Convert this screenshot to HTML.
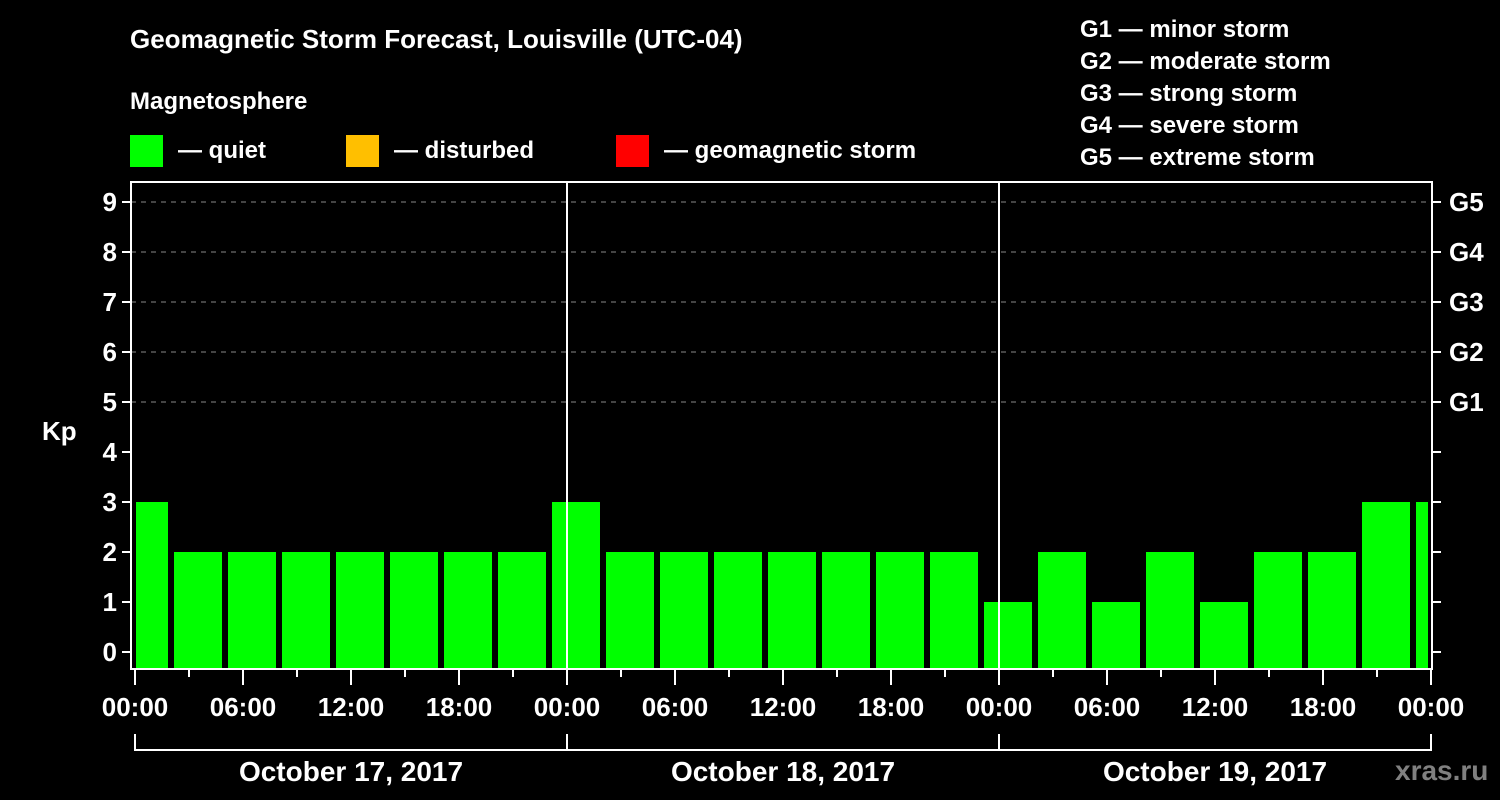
<!DOCTYPE html>
<html><head><meta charset="utf-8"><style>
html,body{margin:0;padding:0;background:#000;}
svg{display:block;font-family:"Liberation Sans",sans-serif;font-weight:bold;}
</style></head><body>
<svg id="chart" width="1500" height="800" viewBox="0 0 1500 800" xmlns="http://www.w3.org/2000/svg">
<rect width="1500" height="800" fill="#000"/>
<text x="130" y="48" fill="#fff" font-size="26">Geomagnetic Storm Forecast, Louisville (UTC-04)</text>
<text x="130" y="109" fill="#fff" font-size="24">Magnetosphere</text>
<g><rect x="130" y="135" width="33" height="32" fill="#00ff00"/><text x="178" y="158" fill="#fff" font-size="24">— quiet</text></g>
<g><rect x="346" y="135" width="33" height="32" fill="#ffbf00"/><text x="394" y="158" fill="#fff" font-size="24">— disturbed</text></g>
<g><rect x="616" y="135" width="33" height="32" fill="#ff0000"/><text x="664" y="158" fill="#fff" font-size="24">— geomagnetic storm</text></g>
<g fill="#fff" font-size="24">
<text x="1080" y="37">G1 — minor storm</text>
<text x="1080" y="69">G2 — moderate storm</text>
<text x="1080" y="101">G3 — strong storm</text>
<text x="1080" y="133">G4 — severe storm</text>
<text x="1080" y="165">G5 — extreme storm</text>
</g>
<text x="42" y="440" fill="#fff" font-size="26">Kp</text>
<g id="grid"></g>
<g id="bars"></g>
<g id="axes"></g>
<text x="1395" y="780" fill="#808080" font-size="28">xras.ru</text>
</svg>
<script>
const values = [3,2,2,2,2,2,2,2,3,2,2,2,2,2,2,2,1,2,1,2,1,2,2,3,3];
const blockStartHour = -1; // first 3h block starts at 23:00 previous day (local)
const dayLabels = ["October 17, 2017","October 18, 2017","October 19, 2017"];
const hourLabels = ["00:00","06:00","12:00","18:00"];
const gLabels = ["G1","G2","G3","G4","G5"];
const kpTicks = [0,1,2,3,4,5,6,7,8,9];

const NS = "http://www.w3.org/2000/svg";
const X0 = 135, PXH = 18, Y0 = 652, PXK = 50;
const L = 131, R = 1432, T = 182, B = 669;
const xs = h => X0 + h * PXH;
const ys = k => Y0 - k * PXK;
function mk(tag, attrs, parent) { const e = document.createElementNS(NS, tag); for (const k in attrs) e.setAttribute(k, attrs[k]); parent.appendChild(e); return e; }
const grid = document.getElementById('grid'), bars = document.getElementById('bars'), axes = document.getElementById('axes');

// grid lines 5..9
for (let k = 5; k <= 9; k++) {
  const ln = mk('line', {x1: L, x2: R, y1: ys(k), y2: ys(k), stroke: '#888', 'stroke-width': 1, 'stroke-dasharray': '5,5'}, grid);
  
  
}
// bars
values.forEach((v, i) => {
  const s = blockStartHour + 3 * i;
  let x1 = xs(s) + 3, x2 = xs(s + 3) - 3;
  x1 = Math.max(x1, L + 5); x2 = Math.min(x2, R - 4);
  const color = v >= 5 ? '#ff0000' : (v >= 4 ? '#ffbf00' : '#00ff00');
  const r = mk('rect', {x: x1, y: ys(v), width: x2 - x1, height: (B - 1) - ys(v), fill: color}, bars);
  
  
});
// day separators
for (let d = 1; d < dayLabels.length; d++) {
  const ln = mk('line', {x1: xs(24 * d), x2: xs(24 * d), y1: T, y2: B, stroke: '#fff', 'stroke-width': 2}, axes);
  
  
}
// frame
const fr = mk('rect', {x: L, y: T, width: R - L, height: B - T, fill: 'none', stroke: '#fff', 'stroke-width': 2}, axes);


// y ticks & labels
kpTicks.forEach(k => {
  mk('line', {x1: 122, x2: L, y1: ys(k), y2: ys(k), stroke: '#fff', 'stroke-width': 2}, axes);
  mk('line', {x1: R, x2: 1441, y1: ys(k), y2: ys(k), stroke: '#fff', 'stroke-width': 2}, axes);
  const t = mk('text', {x: 117, y: ys(k) + 9, fill: '#fff', 'font-size': 26, 'text-anchor': 'end'}, axes);
  t.textContent = k;
  
  
});
gLabels.forEach((g, i) => {
  const t = mk('text', {x: 1449, y: ys(5 + i) + 9, fill: '#fff', 'font-size': 26}, axes);
  t.textContent = g;
  
  
});
// x ticks
const totalH = 24 * dayLabels.length;
for (let h = 0; h <= totalH; h += 3) {
  const major = h % 6 === 0;
  mk('line', {x1: xs(h), x2: xs(h), y1: B, y2: major ? 685 : 677, stroke: '#fff', 'stroke-width': 2}, axes);
  if (major) {
    const t = mk('text', {x: xs(h), y: 716, fill: '#fff', 'font-size': 26, 'text-anchor': 'middle'}, axes);
    t.textContent = hourLabels[(h / 6) % 4];
    
    
  }
}
// date brackets
mk('line', {x1: xs(0), x2: xs(totalH), y1: 750, y2: 750, stroke: '#fff', 'stroke-width': 2}, axes);
for (let d = 0; d <= dayLabels.length; d++) {
  mk('line', {x1: xs(24 * d), x2: xs(24 * d), y1: 734, y2: 751, stroke: '#fff', 'stroke-width': 2}, axes);
}
dayLabels.forEach((lbl, d) => {
  const t = mk('text', {x: xs(24 * d + 12), y: 781, fill: '#fff', 'font-size': 28, 'text-anchor': 'middle'}, axes);
  t.textContent = lbl;
  
  
});
</script>
</body></html>
